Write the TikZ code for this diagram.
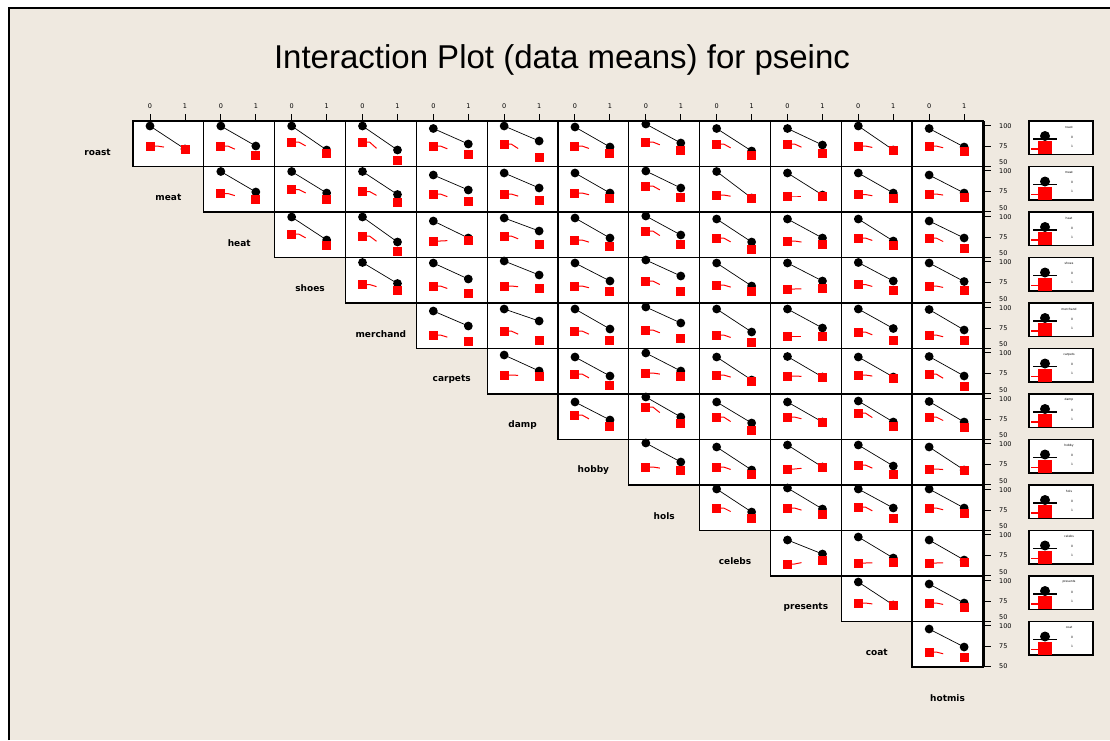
\documentclass[tikz,border=0pt]{standalone}
\usepackage{fontspec}
\setmainfont{DejaVu Sans}
\newfontfamily\titlefont{Liberation Sans}
\definecolor{bgbeige}{RGB}{239,233,224}
\definecolor{mred}{RGB}{255,0,0}
\begin{document}
\begin{tikzpicture}[x=1pt,y=-1pt,
  cellbox/.style={draw=black,fill=white,line width=1.3pt},
  blkline/.style={draw=black,line width=0.7pt},
  redline/.style={draw=mred,line width=1pt},
  axline/.style={draw=black,line width=1.3pt},
  rowlab/.style={font=\bfseries\fontsize{9}{11}\selectfont,inner sep=0pt},
  ticklab/.style={font=\fontsize{6.5}{7.5}\selectfont,inner sep=0pt},
  tinylab/.style={font=\fontsize{3}{3.5}\selectfont,inner sep=0pt}]
\useasboundingbox (0,0) rectangle (1110,740);
\fill[white] (0,0) rectangle (1110,740);
\fill[bgbeige] (9,8) rectangle (1110,740);
\draw[line width=1.6pt] (9,740) -- (9,8) -- (1110,8);
\node[font=\titlefont\fontsize{33}{38}\selectfont,inner sep=0pt] (title) at (562,60) {Interaction Plot (data means) for pseinc};
% cells
\foreach \row/\cells in {
 0/{5/28/25/28,5/25/25/34,5/29/21/32,5/29/21/39,7.5/23/25/33,5/20/23/36,6/26/25/32,3/22/21/29,7.5/30/23/34,7.5/24/23/32,5/29/25/29,7.5/26/25/30},
 1/{5/25.5/27/33,5/26.5/23/33,5/28/25/36,8.5/23.5/27.5/35,6.5/21.5/27.5/33.5,6.5/26.5/26.5/31.5,4.5/21.5/19.5/30.5,5/31.5/28.5/32,6.5/28.5/29.5/29.5,6.5/26.5/28/31.5,8.5/26.5/27.5/30.5},
 2/{5/28/22/33,5/30/24/39,9/26/29/28,6/19/24/32,6/26/28/34,4/23/19/32,7/30/26/37,7/26/29/32,7/29/26/33,9/26/26/36},
 3/{5/26/27/33,5.5/21.5/28.5/35.5,3.5/17.5/28.5/30.5,5.5/23.5/28.5/33.5,2.5/18.5/23.5/33.5,5.5/28.5/27.5/33.5,5.5/23.5/31.5/31,5/23.5/27/32.5,5.5/24/28.5/32.5},
 4/{8/23/32/38,6/18/28/37,6/26/28/37,4/20/27/35,6/29/32/39,6/25/33/33,6/25.5/29/37,6.5/27/32/37},
 5/{6.5/22.5/26.5/27.5,8.5/27.5/25.5/36.5,4.5/22.5/24.5/27.5,8.5/31.5/26.5/32.5,8/28.5/27.5/28.5,8.5/28.5/26.5/29.5,8/27.5/25.5/37.5},
 6/{8/26/21/32,3/23/13/29,8/29/23/36,8/28/23/28,7/28/19/32,7.5/28/23/33},
 7/{3.5/22.5/27.5/30.5,7.5/30.5/27.5/34.5,5.5/27.5/29.5/27.5,5.5/26.5/25.5/34.5,7.5/30.5/29.5/31},
 8/{4/27/23/33,3/24/23/29,4/23/22/33,4/23/23/28},
 9/{9.5/23.5/33.5/29.5,6.5/27.5/32.5/32,9.5/29.5/32.5/32},
 10/{6/29/27/29.5,8/27/27/31},
 11/{7.5/25.5/30.5/35.5}}{
  \foreach \bz/\bo/\rz/\ro [count=\k] in \cells {
    \pgfmathsetmacro\cx{133+70.83*(\row+\k-1)}
    \pgfmathsetmacro\cy{121+45.5*\row}
    \pgfmathsetmacro\rmid{\rz+0.35*(\ro-\rz)}
    \draw[cellbox] (\cx,\cy) rectangle ++(70.83,45.5);
    \draw[blkline] (\cx+17,\cy+\bz) -- (\cx+52,\cy+\bo);
    \fill[black] (\cx+17,\cy+\bz) circle (4.4);
    \fill[black] (\cx+52,\cy+\bo) circle (4.4);
    \draw[redline] (\cx+17,\cy+\rz) -- (\cx+24,\cy+\rz) -- (\cx+31,\cy+\rmid);
    \fill[mred] (\cx+12.5,\cy+\rz-4.5) rectangle ++(9,9);
    \fill[mred] (\cx+47.5,\cy+\ro-4.5) rectangle ++(9,9);
  }
}
% top axis
\foreach \j in {0,...,11}{
  \pgfmathsetmacro\cx{133+70.83*\j}
  \draw[line width=1pt] (\cx+17,114) -- (\cx+17,121);
  \draw[line width=1pt] (\cx+52,114) -- (\cx+52,121);
  \node[ticklab] (tz\j) at (\cx+17,106) {0};
  \node[ticklab] (to\j) at (\cx+52,106) {1};
}
% right axis and legends
\draw[axline] (984,121) -- (984,667);
\foreach \row/\name in {0/roast,1/meat,2/heat,3/shoes,4/merchand,5/carpets,6/damp,7/hobby,8/hols,9/celebs,10/presents,11/coat}{
  \pgfmathsetmacro\cy{121+45.5*\row}
  \pgfmathsetmacro\fy{\row==11 ? \cy+45 : \cy+41.5}
  \draw[line width=1pt] (984,\cy+4) -- (991,\cy+4);
  \draw[line width=1pt] (984,\cy+25) -- (991,\cy+25);
  \draw[line width=1pt] (984,\cy+45) -- (991,\cy+45);
  \node[ticklab,anchor=west] (ya\row) at (999,\cy+5) {100};
  \node[ticklab,anchor=west] (yb\row) at (999,\cy+25) {75};
  \node[ticklab,anchor=west] (yc\row) at (999,\fy) {50};
  % legend
  \draw[cellbox] (1029,\cy) rectangle (1093,\cy+33.5);
  \fill[black] (1045,\cy+15) circle (5);
  \draw[black,line width=1.6pt] (1033,\cy+18) -- (1057,\cy+18);
  \fill[mred] (1038,\cy+20) rectangle (1052,\cy+33);
  \draw[mred,line width=1.2pt] (1031,\cy+28) -- (1040,\cy+28);
  \node[tinylab] (lt\row) at (1069,\cy+6) {\name};
  \node[tinylab] (lz\row) at (1072,\cy+16) {0};
  \node[tinylab] (lo\row) at (1072,\cy+25) {1};
}
% row labels
\foreach \row/\name in {0/roast,1/meat,2/heat,3/shoes,4/merchand,5/carpets,6/damp,7/hobby,8/hols,9/celebs,10/presents,11/coat,12/hotmis}{
  \pgfmathsetmacro\lx{133+70.83*(\row-1)+35.4}
  \pgfmathsetmacro\ly{121+45.5*\row+31}
  \node[rowlab] (rl\row) at (\lx,\ly) {\name};
}
\end{tikzpicture}
\end{document}
